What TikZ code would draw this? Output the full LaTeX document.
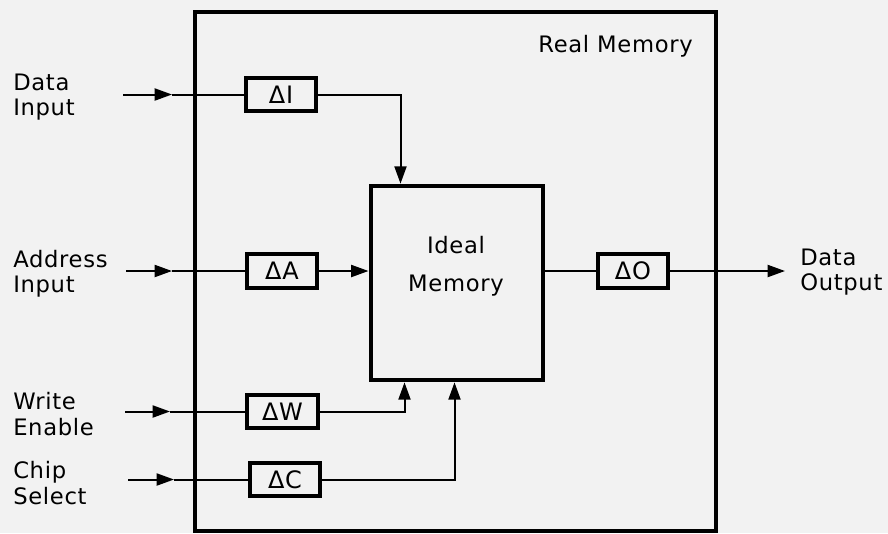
\documentclass[tikz,border=0pt]{standalone}
\usepackage{fontspec}
\setmainfont{DejaVu Sans}[LetterSpace=3]
\usetikzlibrary{positioning, arrows.meta, calc}
\tikzset{delay/.style={draw, line width=3pt, minimum width=53pt, minimum height=25pt, inner sep=0pt, font=\fontsize{18}{20}\selectfont},block/.style={draw, line width=3pt, inner sep=0pt},lbl/.style={align=left, anchor=west, inner sep=0pt, font=\fontsize{17}{19}\selectfont},flow/.style={-{Triangle[length=13pt, width=9pt]}, line width=1.5pt},wire/.style={line width=1.5pt}}

\begin{document}
\begin{tikzpicture}[x=0.75pt, y=-0.75pt,
   txt/.style={inner sep=0pt, font=\fontsize{17}{20}\selectfont}]
  \fill[black!5] (0,0) rectangle (888,533);
  \useasboundingbox (0,0) rectangle (888,533);

  % Real Memory
  \node[block, minimum width=391pt, minimum height=389pt] (real) at (455.5,271.5) {};
  \node[txt, anchor=east] (realtxt) at (693,46) {Real Memory};

  % Ideal Memory
  \node[block, minimum width=129pt, minimum height=146pt] (ideal) at (456.5,283) {};
  \node[txt, align=center, font=\fontsize{17}{28.5}\selectfont] (idealtxt) at (456,266) {Ideal\\ Memory};

  % delays
  \node[delay] (dI) at (281,94.5) {ΔI};
  \node[delay] (dA) at (282,271) {ΔA};
  \node[delay] (dW) at (282.5,411.5) {ΔW};
  \node[delay] (dC) at (285,479.5) {ΔC};
  \node[delay] (dO) at (633,271) {ΔO};

  % outside labels
  \node[lbl] (lin) at (13,97) {Data\\ Input};
  \node[lbl] (ladr) at (13,274) {Address\\ Input};
  \node[lbl] (lwe) at (13,414) {Write\\ Enable};
  \node[lbl] (lcs) at (13,483) {Chip\\ Select};
  \node[lbl] (lout) at (800,272) {Data\\ Output};

  % input wires
  \coordinate (sI) at (123,94.5);  \coordinate (tI) at (172,94.5);
  \coordinate (sA) at (126,271);   \coordinate (tA) at (172,271);
  \coordinate (sW) at (125,411.5); \coordinate (tW) at (170,411.5);
  \coordinate (sC) at (128,479.5); \coordinate (tC) at (174,479.5);
  \draw[flow] (sI) -- (tI); \draw[wire] (tI) -- (dI);
  \draw[flow] (sA) -- (tA); \draw[wire] (tA) -- (dA);
  \draw[flow] (sW) -- (tW); \draw[wire] (tW) -- (dW);
  \draw[flow] (sC) -- (tC); \draw[wire] (tC) -- (dC);

  % into ideal memory
  \draw[flow] (dI.east) -| ($(ideal.north west)+(32,0)$);
  \draw[flow] (dA.east) -- (dA.east -| ideal.west);
  \draw[flow] (dW.east) -| ($(ideal.south west)+(36,0)$);
  \draw[flow] (dC.east) -| ($(ideal.south west)+(86,0)$);

  % output
  \coordinate (tO) at (785,271);
  \draw[wire] (dO.west -| ideal.east) -- (dO.west);
  \draw[flow] (dO.east) -- (tO);
\end{tikzpicture}
\end{document}
